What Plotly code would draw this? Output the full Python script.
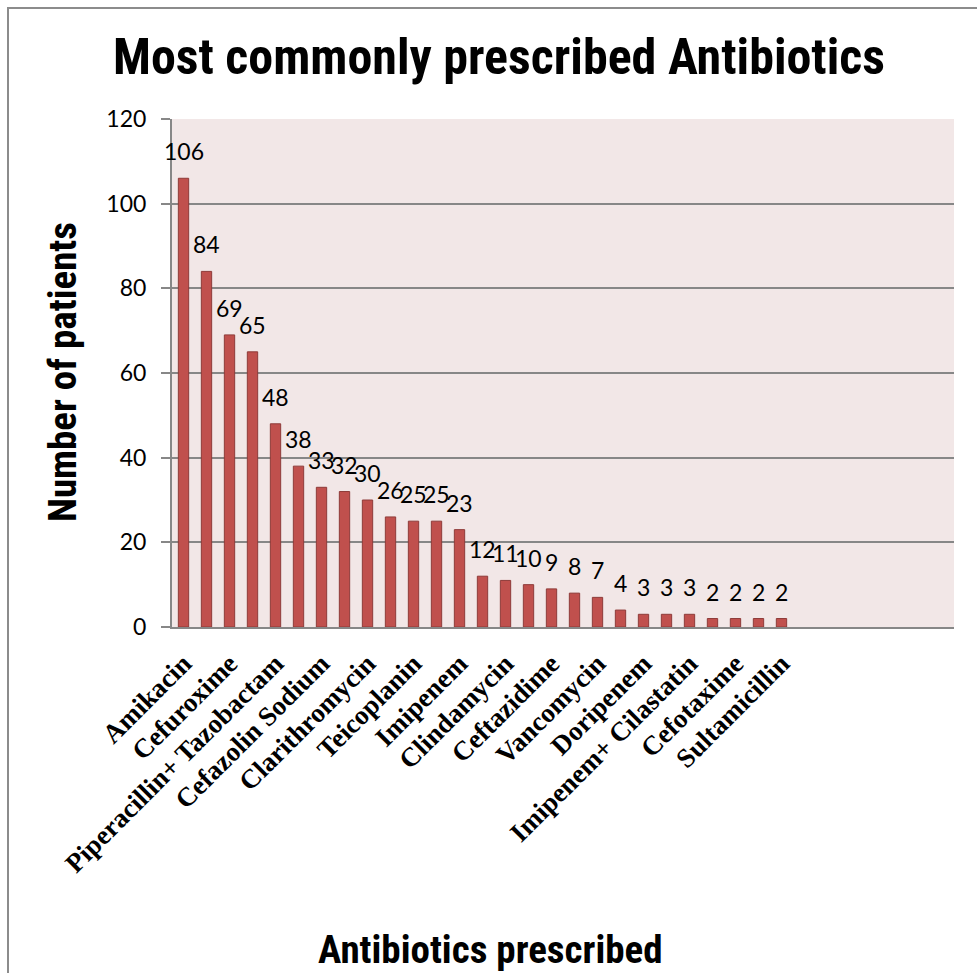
import plotly.graph_objects as go

# Number of patients per antibiotic, in descending order
patients = [106, 84, 69, 65, 48, 38, 33, 32, 30, 26, 25, 25, 23,
            12, 11, 10, 9, 8, 7, 4, 3, 3, 3, 2, 2, 2, 2]

# Names shown on the category axis (every second bar is labelled)
tick_labels = ["Amikacin", "Cefuroxime", "Piperacillin+ Tazobactam",
               "Cefazolin Sodium", "Clarithromycin", "Teicoplanin",
               "Imipenem", "Clindamycin", "Ceftazidime", "Vancomycin",
               "Doripenem", "Imipenem+ Cilastatin", "Cefotaxime",
               "Sultamicillin"]

positions = list(range(len(patients)))
tick_positions = positions[::2]

W, H = 977, 973
L, R, T, B = 172, 23, 119, 346
pw, ph = W - L - R, H - T - B

num_font = "Lato, Carlito, Calibri, sans-serif"
narrow_bold = "'Liberation Sans Narrow', 'Arial Narrow', 'Roboto Condensed', sans-serif"

fig = go.Figure()
fig.add_trace(go.Bar(
    x=positions,
    y=patients,
    width=0.45,
    marker=dict(color="#C0504D", line=dict(color="#8E3B39", width=1)),
    hoverinfo="x+y",
))

# Value labels above each bar
for xi, v in zip(positions, patients):
    fig.add_annotation(
        x=xi, y=v, xref="x", yref="y",
        text=str(v), showarrow=False,
        yanchor="bottom", xanchor="center", yshift=11,
        font=dict(family=num_font, size=23, color="#000000"),
    )

# Outer chart frame
fig.add_shape(
    type="rect", xref="paper", yref="paper",
    x0=(8 - L) / pw, x1=(1000 - L) / pw,
    y0=-(1000 - T - ph) / ph, y1=1 + (T - 8) / ph,
    line=dict(color="#8C8C8C", width=2), fillcolor="rgba(0,0,0,0)", layer="below",
)

fig.update_layout(
    width=W, height=H,
    margin=dict(l=L, r=R, t=T, b=B),
    paper_bgcolor="#FFFFFF",
    plot_bgcolor="#F2E7E7",
    showlegend=False,
    title=dict(
        text="<b>Most commonly prescribed Antibiotics</b>",
        x=499 / W, xref="container", xanchor="center",
        y=1 - 56 / H, yref="container", yanchor="middle",
        font=dict(family=narrow_bold, size=50, color="#000000"),
    ),
    xaxis=dict(
        range=[-0.5, 33.5],
        tickmode="array", tickvals=tick_positions, ticktext=tick_labels,
        tickangle=-45,
        tickfont=dict(family="'Liberation Serif', 'Times New Roman', serif",
                      size=27, color="#000000", weight="bold"),
        ticklabelstandoff=8,
        ticks="", showgrid=False, zeroline=False,
        showline=True, linecolor="#878787", linewidth=2,
    ),
    yaxis=dict(
        range=[0, 120], dtick=20,
        tickfont=dict(family=num_font, size=23, color="#000000"),
        ticks="outside", ticklen=9, tickcolor="#878787", tickwidth=1.5,
        ticklabelstandoff=10,
        showgrid=True, gridcolor="#878787", gridwidth=1.5,
        zeroline=False, showline=True, linecolor="#878787", linewidth=2,
    ),
)

# Axis titles
fig.add_annotation(
    text="<b>Number of patients</b>", textangle=-90,
    xref="paper", yref="paper",
    x=(63 - L) / pw, y=1 - (372 - T) / ph,
    xanchor="center", yanchor="middle", showarrow=False,
    font=dict(family=narrow_bold, size=39, color="#000000"),
)
fig.add_annotation(
    text="<b>Antibiotics prescribed</b>",
    xref="paper", yref="paper",
    x=(490 - L) / pw, y=1 - (950 - T) / ph,
    xanchor="center", yanchor="middle", showarrow=False,
    font=dict(family=narrow_bold, size=39, color="#000000"),
)

fig.write_html("out.html")
